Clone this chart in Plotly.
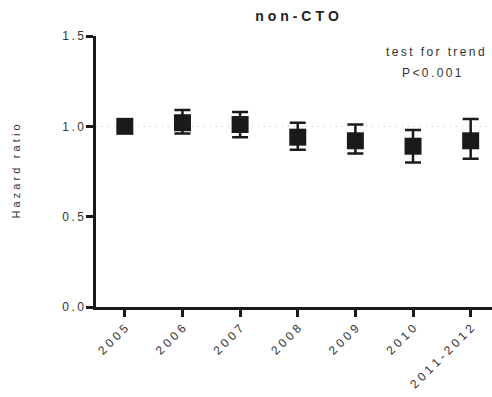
import plotly.graph_objects as go

categories = ["2005", "2006", "2007", "2008", "2009", "2010", "2011-2012"]
hazard_ratio = [1.00, 1.02, 1.01, 0.94, 0.92, 0.89, 0.92]
ci_upper = [1.00, 1.09, 1.08, 1.02, 1.01, 0.98, 1.04]
ci_lower = [1.00, 0.96, 0.94, 0.87, 0.85, 0.80, 0.82]
y_ticks = [0.0, 0.5, 1.0, 1.5]

SP = "\u2009"


def spaced(s, sp=SP):
    return sp.join(list(s))


err_plus = [u - v for u, v in zip(ci_upper, hazard_ratio)]
err_minus = [v - l for v, l in zip(hazard_ratio, ci_lower)]

INK = "#1a1a1a"
FONT = "Liberation Sans, Arial, sans-serif"

fig = go.Figure()
fig.add_trace(go.Scatter(
    x=list(range(len(categories))),
    y=hazard_ratio,
    mode="markers",
    marker=dict(symbol="square", size=17, color=INK),
    error_y=dict(type="data", symmetric=False, array=err_plus, arrayminus=err_minus,
                 color=INK, thickness=2.5, width=8),
    showlegend=False,
))

fig.add_shape(type="line", xref="paper", yref="y", x0=0, x1=1, y0=1, y1=1,
              line=dict(color="#c8c8c8", width=1, dash="1px,5px"), layer="below")

fig.update_layout(
    width=492, height=397,
    margin=dict(l=96, r=0, t=36, b=90),
    paper_bgcolor="white", plot_bgcolor="white",
    font=dict(family=FONT, color="#333333", size=12),
    title=dict(text="<b>" + spaced("non-CTO", "\u2009\u200a") + "</b>",
               x=297 / 492, xanchor="center", y=1 - 16 / 397, yanchor="middle",
               font=dict(size=14, color="#222222")),
    xaxis=dict(
        range=[-0.5, 6.37],
        tickmode="array",
        tickvals=list(range(len(categories))),
        ticktext=[spaced(c, "\u2009\u200a") for c in categories],
        tickangle=-45,
        ticks="outside", ticklen=7, tickwidth=2.5, tickcolor=INK,
        showline=True, linewidth=2.5, linecolor=INK,
        showgrid=False, zeroline=False,
        tickfont=dict(size=12, color="#333333"),
    ),
    yaxis=dict(
        range=[0, 1.5],
        tickmode="array",
        tickvals=y_ticks,
        ticktext=[spaced(f"{v:.1f}") for v in y_ticks],
        ticks="outside", ticklen=7, tickwidth=2.5, tickcolor=INK,
        showline=True, linewidth=2.5, linecolor=INK,
        showgrid=False, zeroline=False,
        tickfont=dict(size=12, color="#333333"),
        title=dict(text=spaced("Hazard ratio", "\u2009\u200a"), font=dict(size=11, color="#333333"),
                   standoff=40),
    ),
    annotations=[
        dict(text=spaced("test for trend"), xref="paper", yref="paper",
             x=(435 - 96) / 396, y=(307 - 52) / 271, xanchor="center", yanchor="middle",
             showarrow=False, font=dict(size=12, color="#333333")),
        dict(text=spaced("P<0.001"), xref="paper", yref="paper",
             x=(432 - 96) / 396, y=(307 - 73) / 271, xanchor="center", yanchor="middle",
             showarrow=False, font=dict(size=12, color="#333333")),
    ],
)

fig.write_html("out.html")
